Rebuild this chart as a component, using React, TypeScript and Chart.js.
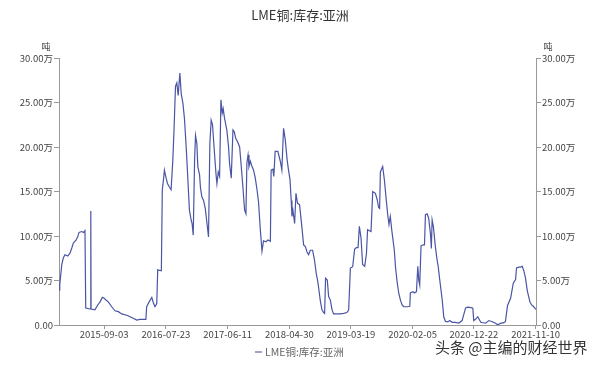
import React, { useEffect, useRef } from 'react';
import { Chart, registerables } from 'chart.js';

Chart.register(...registerables);

const chartTitle = 'LME铜:库存:亚洲';
const seriesName = 'LME铜:库存:亚洲';
const unitLabel = '吨';
const watermark = '头条 @主编的财经世界';
const xTickDates = ['2015-09-03', '2016-07-23', '2017-06-11', '2018-04-30', '2019-03-19', '2020-02-05', '2020-12-22', '2021-11-10'];
const yTickValues = [0, 5, 10, 15, 20, 25, 30]; // 万吨

// values in 万吨
const dates2015 = ['2015-01-10', '2015-01-14', '2015-01-24', '2015-02-01', '2015-02-10', '2015-02-25', '2015-03-09', '2015-03-18', '2015-03-26', '2015-04-08', '2015-04-18', '2015-04-25', '2015-05-09', '2015-05-19', '2015-05-26', '2015-05-30', '2015-06-22', '2015-06-25', '2015-06-26', '2015-06-27', '2015-07-17', '2015-08-01', '2015-08-13', '2015-08-25', '2015-09-04', '2015-09-13', '2015-09-25', '2015-10-13', '2015-10-30', '2015-11-17', '2015-12-04', '2015-12-31'];
const values2015 = [3.93, 4.5, 6.7, 7.5, 7.9, 7.75, 8.1, 8.65, 9.2, 9.5, 9.9, 10.4, 10.5, 10.4, 10.6, 1.9, 1.8, 1.8, 12.8, 1.8, 1.7, 2.25, 2.6, 3.1, 3.0, 2.8, 2.6, 2.05, 1.6, 1.5, 1.25, 1.1];

const dates2016 = ['2016-01-17', '2016-02-03', '2016-02-21', '2016-03-09', '2016-04-09', '2016-04-13', '2016-04-26', '2016-05-10', '2016-05-18', '2016-05-27', '2016-06-05', '2016-06-10', '2016-06-29', '2016-07-04', '2016-07-10', '2016-07-15', '2016-07-24', '2016-07-31', '2016-08-10', '2016-08-19', '2016-08-28', '2016-09-04', '2016-09-11', '2016-09-18', '2016-09-25', '2016-10-04', '2016-10-11', '2016-10-20', '2016-10-28', '2016-11-06', '2016-11-15', '2016-11-23', '2016-12-02', '2016-12-07', '2016-12-13', '2016-12-20', '2016-12-25'];
const values2016 = [0.93, 0.75, 0.56, 0.64, 0.64, 2.05, 2.6, 3.1, 2.5, 2.05, 2.4, 6.2, 6.1, 15.2, 16.3, 17.4, 16.5, 15.9, 15.5, 15.2, 18.5, 22.3, 26.8, 27.2, 25.8, 28.3, 26.0, 24.9, 23.2, 20.0, 16.3, 12.9, 11.8, 11.4, 10.1, 18.5, 21.3];

const dates2017 = ['2017-01-01', '2017-01-06', '2017-01-15', '2017-01-20', '2017-01-27', '2017-02-05', '2017-02-14', '2017-02-23', '2017-03-03', '2017-03-10', '2017-03-17', '2017-03-24', '2017-04-02', '2017-04-11', '2017-04-16', '2017-04-23', '2017-04-30', '2017-05-07', '2017-05-14', '2017-05-19', '2017-05-26', '2017-06-07', '2017-06-16', '2017-06-21', '2017-06-30', '2017-07-09', '2017-07-16', '2017-07-23', '2017-08-02', '2017-08-13', '2017-08-20', '2017-08-30', '2017-09-08', '2017-09-15', '2017-09-20', '2017-09-26', '2017-10-01', '2017-10-08', '2017-10-17', '2017-10-25', '2017-11-03', '2017-11-12', '2017-11-20', '2017-11-29', '2017-12-08', '2017-12-16', '2017-12-29'];
const values2017 = [20.4, 17.8, 16.9, 15.4, 14.4, 14.0, 13.1, 11.4, 9.9, 20.4, 23.0, 22.5, 19.7, 17.0, 15.9, 17.2, 16.7, 25.3, 23.8, 24.3, 23.2, 21.9, 20.0, 18.2, 16.5, 21.9, 21.7, 21.0, 20.6, 20.0, 18.2, 15.5, 12.9, 12.5, 18.2, 19.1, 17.8, 18.4, 17.8, 17.4, 16.5, 15.2, 13.8, 10.8, 8.3, 9.45, 9.35];

const dates2018 = ['2018-01-08', '2018-01-21', '2018-01-25', '2018-02-03', '2018-02-08', '2018-02-15', '2018-03-01', '2018-03-14', '2018-03-22', '2018-03-31', '2018-04-09', '2018-04-19', '2018-04-26', '2018-05-04', '2018-05-10', '2018-05-14', '2018-05-19', '2018-05-28', '2018-06-04', '2018-06-12', '2018-06-23', '2018-07-05', '2018-07-14', '2018-07-23', '2018-08-01', '2018-08-09', '2018-08-18', '2018-08-30', '2018-09-09', '2018-09-18', '2018-09-25', '2018-09-30', '2018-10-09', '2018-10-18', '2018-10-27', '2018-11-01', '2018-11-06', '2018-11-15', '2018-11-22', '2018-12-01', '2018-12-10', '2018-12-18'];
const values2018 = [9.55, 9.4, 17.4, 17.5, 16.7, 19.5, 19.5, 18.4, 17.4, 22.1, 20.8, 18.5, 17.4, 16.3, 14.0, 12.2, 12.9, 11.4, 14.8, 13.7, 13.5, 11.0, 9.0, 8.8, 8.2, 7.9, 8.4, 8.4, 7.3, 5.8, 5.05, 4.3, 2.8, 1.7, 1.4, 1.3, 5.25, 5.05, 3.2, 2.8, 1.7, 1.25];

const dates2019 = ['2019-01-05', '2019-01-22', '2019-02-09', '2019-02-26', '2019-03-07', '2019-03-16', '2019-03-28', '2019-04-07', '2019-04-16', '2019-04-25', '2019-05-02', '2019-05-11', '2019-05-19', '2019-05-30', '2019-06-08', '2019-06-14', '2019-07-02', '2019-07-11', '2019-07-25', '2019-08-03', '2019-08-11', '2019-08-16', '2019-08-20', '2019-09-01', '2019-09-10', '2019-09-20', '2019-09-28', '2019-10-04', '2019-10-11', '2019-10-19', '2019-11-01', '2019-11-07', '2019-11-16', '2019-11-24', '2019-12-03', '2019-12-12', '2019-12-20'];
const values2019 = [1.25, 1.25, 1.3, 1.4, 1.7, 6.4, 6.55, 8.5, 8.7, 8.7, 11.1, 9.7, 6.8, 6.6, 8.0, 10.7, 10.5, 15.0, 14.8, 14.1, 13.2, 13.1, 17.2, 17.8, 16.3, 14.0, 12.3, 11.3, 12.2, 10.6, 8.4, 6.55, 4.8, 3.6, 2.8, 2.25, 2.05];

const dates2020 = ['2020-01-07', '2020-01-21', '2020-01-24', '2020-02-07', '2020-02-14', '2020-02-25', '2020-03-03', '2020-03-08', '2020-03-13', '2020-03-20', '2020-03-31', '2020-04-07', '2020-04-12', '2020-04-21', '2020-04-29', '2020-05-08', '2020-05-13', '2020-05-17', '2020-05-24', '2020-06-03', '2020-06-12', '2020-06-18', '2020-06-26', '2020-07-09', '2020-07-17', '2020-07-26', '2020-08-07', '2020-08-17', '2020-08-30', '2020-09-16', '2020-10-04', '2020-10-21', '2020-11-08', '2020-11-17', '2020-12-08', '2020-12-16', '2020-12-21', '2020-12-30'];
const values2020 = [2.05, 2.1, 3.6, 3.75, 3.6, 3.75, 6.6, 5.05, 4.5, 8.9, 9.0, 9.0, 12.4, 12.5, 12.0, 10.3, 8.6, 11.8, 11.0, 8.8, 7.3, 6.55, 5.05, 2.8, 0.9, 0.4, 0.35, 0.5, 0.3, 0.3, 0.22, 0.5, 1.9, 2.0, 1.95, 1.9, 0.5, 0.64];

const dates2021 = ['2021-01-11', '2021-01-27', '2021-02-21', '2021-03-10', '2021-03-28', '2021-04-14', '2021-04-26', '2021-05-10', '2021-05-28', '2021-06-05', '2021-06-16', '2021-07-02', '2021-07-16', '2021-07-28', '2021-08-02', '2021-08-14', '2021-08-23', '2021-09-01', '2021-09-09', '2021-09-18', '2021-09-27', '2021-10-11', '2021-10-20', '2021-10-29', '2021-11-06', '2021-11-12'];
const values2021 = [0.93, 0.3, 0.2, 0.5, 0.37, 0.19, 0.02, 0.19, 0.26, 0.4, 2.2, 3.0, 4.7, 5.1, 6.4, 6.5, 6.5, 6.6, 6.1, 5.3, 3.9, 2.6, 2.25, 2.1, 1.9, 1.75];

const dates = [...dates2015, ...dates2016, ...dates2017, ...dates2018, ...dates2019, ...dates2020, ...dates2021];
const values = [...values2015, ...values2016, ...values2017, ...values2018, ...values2019, ...values2020, ...values2021];

const DAY = 86400000;
const toDay = (s: string) => {
  const [y, m, d] = s.split('-').map(Number);
  return Date.UTC(y, m - 1, d) / DAY;
};
const fmtDay = (v: number) => new Date(Math.round(v) * DAY).toISOString().slice(0, 10);

const FONT = '"Noto Sans CJK SC", "Noto Sans", sans-serif';
const LINE_COLOR = '#4a55a5';

const decorPlugin = {
  id: 'decor',
  afterDraw(chart: any) {
    const ctx = chart.ctx;
    const area = chart.chartArea;
    ctx.save();
    // title
    ctx.fillStyle = '#333';
    ctx.font = `13px ${FONT}`;
    ctx.textAlign = 'center';
    ctx.textBaseline = 'middle';
    ctx.fillText(chartTitle, chart.width / 2, 15);
    // units
    ctx.font = `9px ${FONT}`;
    ctx.fillStyle = '#444';
    ctx.fillText(unitLabel, area.left - 13, area.top - 11);
    ctx.fillText(unitLabel, area.right + 12, area.top - 11);
    // legend
    ctx.strokeStyle = '#7d84bd';
    ctx.lineWidth = 1.5;
    ctx.beginPath();
    ctx.moveTo(255, 352);
    ctx.lineTo(262, 352);
    ctx.stroke();
    ctx.font = `10.5px ${FONT}`;
    ctx.fillStyle = '#666';
    ctx.textAlign = 'left';
    ctx.fillText(seriesName, 265, 352);
    // watermark
    ctx.font = `15px ${FONT}`;
    ctx.lineWidth = 3;
    ctx.strokeStyle = 'rgba(255,255,255,0.9)';
    ctx.strokeText(watermark, 435, 347);
    ctx.fillStyle = '#333';
    ctx.fillText(watermark, 435, 347);
    ctx.restore();
  },
};

export default function App() {
  const ref = useRef<HTMLCanvasElement>(null);

  useEffect(() => {
    if (!ref.current) return;
    const points = dates.map((d, i) => ({ x: toDay(d), y: values[i] }));
    const yTickCb = (v: any) => (v === 0 ? '0.00' : Number(v).toFixed(2) + '万');
    const setYTicks = (s: any) => {
      s.ticks = yTickValues.map((v) => ({ value: v }));
    };
    const chart = new Chart(ref.current, {
      type: 'line',
      data: {
        datasets: [
          {
            label: seriesName,
            data: points,
            borderColor: LINE_COLOR,
            backgroundColor: LINE_COLOR,
            borderWidth: 1.2,
            pointRadius: 0,
            tension: 0,
            yAxisID: 'y',
          },
        ],
      },
      options: {
        responsive: false,
        animation: false,
        layout: { padding: { top: 58, left: 0, right: 0, bottom: 0 } },
        plugins: {
          legend: { display: false },
          title: { display: false },
          tooltip: { enabled: false },
        },
        scales: {
          x: {
            type: 'linear',
            min: toDay(dates[0]),
            max: toDay(dates[dates.length - 1]),
            afterBuildTicks: (s: any) => {
              s.ticks = xTickDates.map((d) => ({ value: toDay(d) }));
            },
            afterFit: (s: any) => {
              s.height = 40;
            },
            ticks: {
              autoSkip: false,
              maxRotation: 0,
              padding: 0,
              color: '#444',
              font: { size: 9.5, family: FONT },
              callback: (v: any) => fmtDay(v),
            },
            grid: { drawOnChartArea: false, tickLength: 4, color: '#999' },
            border: { color: '#999' },
          },
          y: {
            position: 'left',
            min: 0,
            max: 30,
            afterBuildTicks: setYTicks,
            afterFit: (s: any) => {
              s.width = 59;
            },
            ticks: {
              padding: 1,
              color: '#444',
              font: { size: 9.5, family: FONT },
              callback: yTickCb,
            },
            grid: { drawOnChartArea: false, tickLength: 5, color: '#999' },
            border: { color: '#999' },
          },
          y2: {
            position: 'right',
            min: 0,
            max: 30,
            afterBuildTicks: setYTicks,
            afterFit: (s: any) => {
              s.width = 64;
            },
            ticks: {
              padding: 1,
              color: '#444',
              font: { size: 9.5, family: FONT },
              callback: yTickCb,
            },
            grid: { drawOnChartArea: false, tickLength: 5, color: '#999' },
            border: { color: '#999' },
          },
        },
      },
      plugins: [decorPlugin],
    } as any);
    return () => chart.destroy();
  }, []);

  return (
    <div style={{ position: 'absolute', left: 0, top: 0, width: 600, height: 365, background: '#fff' }}>
      <canvas ref={ref} width={600} height={365} style={{ display: 'block', width: 600, height: 365 }} />
    </div>
  );
}
